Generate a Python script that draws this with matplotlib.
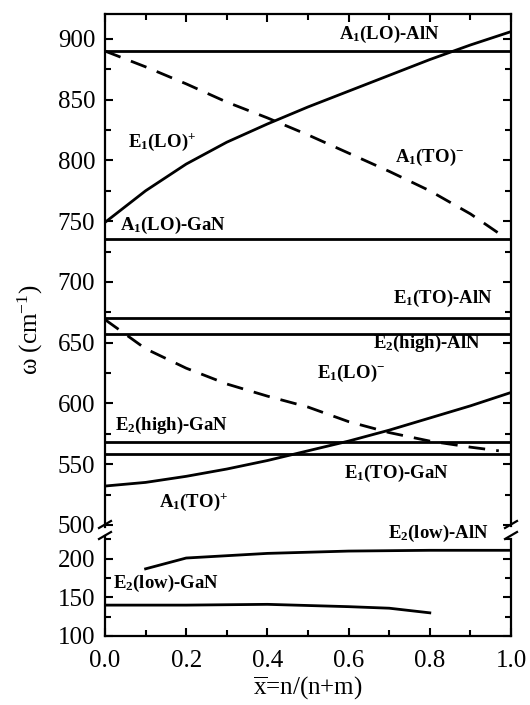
import matplotlib
matplotlib.use("Agg")
import matplotlib.pyplot as plt
from matplotlib.ticker import MultipleLocator, FormatStrFormatter
from matplotlib.lines import Line2D

plt.rcParams['font.family'] = ['Liberation Serif', 'DejaVu Serif']
plt.rcParams['mathtext.fontset'] = 'custom'
plt.rcParams['mathtext.rm'] = 'Liberation Serif'
plt.rcParams['mathtext.it'] = 'Liberation Serif:italic'
plt.rcParams['mathtext.bf'] = 'Liberation Serif:bold'

# horizontal bulk modes (cm-1)
a1_lo_aln = 890
a1_lo_gan = 735
e1_to_aln = 670
e2_high_aln = 657
e2_high_gan = 568
e1_to_gan = 558

# composition curves
x_full = [0.0, 0.1, 0.2, 0.3, 0.4, 0.5, 0.6, 0.7, 0.8, 0.9, 1.0]
e1_lo_plus = [749, 775, 797, 815, 830, 844, 857, 870, 883, 895, 906]
a1_to_plus = [532, 535, 540, 546, 553, 561, 569, 578, 588, 598, 609]

x_dash = [0.0, 0.1, 0.2, 0.3, 0.4, 0.5, 0.6, 0.7, 0.8, 0.9, 0.97]
a1_to_minus = [890, 877, 863, 848, 835, 821, 806, 791, 775, 756, 740]
e1_lo_minus = [669, 645, 629, 616, 606, 597, 585, 576, 569, 564, 561]

x_e2l_aln = [0.1, 0.2, 0.4, 0.6, 0.8, 1.0]
e2_low_aln = [187, 201, 207, 210, 211, 211]
x_e2l_gan = [0.0, 0.2, 0.4, 0.6, 0.7, 0.8]
e2_low_gan = [140, 140, 141, 138, 136, 130]

fig = plt.figure(figsize=(5.3, 7.05), dpi=100)
W, H = 530.0, 705.0
ax1 = fig.add_axes([105 / W, 1 - 531 / H, 406 / W, 517 / H])
ax2 = fig.add_axes([105 / W, 1 - 636 / H, 406 / W, 105 / H])

lw = 2.0
for y in [a1_lo_aln, a1_lo_gan, e1_to_aln, e2_high_aln, e2_high_gan, e1_to_gan]:
    ax1.axhline(y, color='black', lw=lw)
ax1.plot(x_full, e1_lo_plus, color='black', lw=lw)
ax1.plot(x_full, a1_to_plus, color='black', lw=lw)
ax1.plot(x_dash, a1_to_minus, color='black', lw=lw, dashes=(6, 4))
ax1.plot(x_dash, e1_lo_minus, color='black', lw=lw, dashes=(6, 4))

ax2.plot(x_e2l_aln, e2_low_aln, color='black', lw=lw)
ax2.plot(x_e2l_gan, e2_low_gan, color='black', lw=lw)

ax1.set_xlim(0, 1)
ax2.set_xlim(0, 1)
ax1.set_ylim(495, 920.5)
ax2.set_ylim(100, 236)

for ax in (ax1, ax2):
    ax.xaxis.set_major_locator(MultipleLocator(0.2))
    ax.xaxis.set_minor_locator(MultipleLocator(0.1))
    ax.yaxis.set_major_locator(MultipleLocator(50))
    ax.yaxis.set_minor_locator(MultipleLocator(25))
    ax.tick_params(which='both', direction='in', width=1.5, labelsize=18,
                   right=True)
    ax.tick_params(axis='y', pad=7)
    ax.tick_params(axis='x', pad=10)
    ax.tick_params(which='major', length=6)
    ax.tick_params(which='minor', length=4)
    for s in ax.spines.values():
        s.set_linewidth(1.6)

ax1.tick_params(which='both', top=True, bottom=False, labelbottom=False)
ax2.tick_params(which='both', top=False)
ax1.spines['bottom'].set_visible(False)
ax2.spines['top'].set_visible(False)
ax1.spines['left'].set_bounds(498, 920.5)
ax1.spines['right'].set_bounds(499, 920.5)
ax2.spines['left'].set_bounds(100, 229)
ax2.spines['right'].set_bounds(100, 226)
ax2.xaxis.set_major_formatter(FormatStrFormatter('%.1f'))

# break marks
def px(xp, yp):
    return xp / W, 1 - yp / H

for x0 in (99, 505):
    for y0 in (528, 539):
        (a, b), (c, d) = px(x0, y0), px(x0 + 12, y0 - 7)
        fig.add_artist(Line2D([a, c], [b, d], color='black', lw=1.6))

tk = dict(fontsize=13.5, fontweight='bold', color='black')
ax1.text(0.576, 900, r"A$_\mathbf{1}$(LO)-AlN", **tk)
ax1.text(0.057, 811, r"E$_\mathbf{1}$(LO)$^\mathbf{+}$", **tk)
ax1.text(0.714, 799, r"A$_\mathbf{1}$(TO)$^\mathbf{-}$", **tk)
ax1.text(0.037, 743, r"A$_\mathbf{1}$(LO)-GaN", **tk)
ax1.text(0.71, 683, r"E$_\mathbf{1}$(TO)-AlN", **tk)
ax1.text(0.66, 646, r"E$_\mathbf{2}$(high)-AlN", **tk)
ax1.text(0.522, 621, r"E$_\mathbf{1}$(LO)$^\mathbf{-}$", **tk)
ax1.text(0.025, 578, r"E$_\mathbf{2}$(high)-GaN", **tk)
ax1.text(0.589, 539, r"E$_\mathbf{1}$(TO)-GaN", **tk)
ax1.text(0.133, 515, r"A$_\mathbf{1}$(TO)$^\mathbf{+}$", **tk)
ax2.text(0.697, 227, r"E$_\mathbf{2}$(low)-AlN", **tk)
ax2.text(0.02, 162, r"E$_\mathbf{2}$(low)-GaN", **tk)

ax2.set_xlabel(r"$\overline{\mathrm{x}}$=n/(n+m)", fontsize=18, labelpad=2)
fig.text(30 / W, 1 - 330 / H, r"ω (cm$^{-1}$)", rotation=90, fontsize=18,
         ha='center', va='center')

fig.savefig("out.png", dpi=100)
